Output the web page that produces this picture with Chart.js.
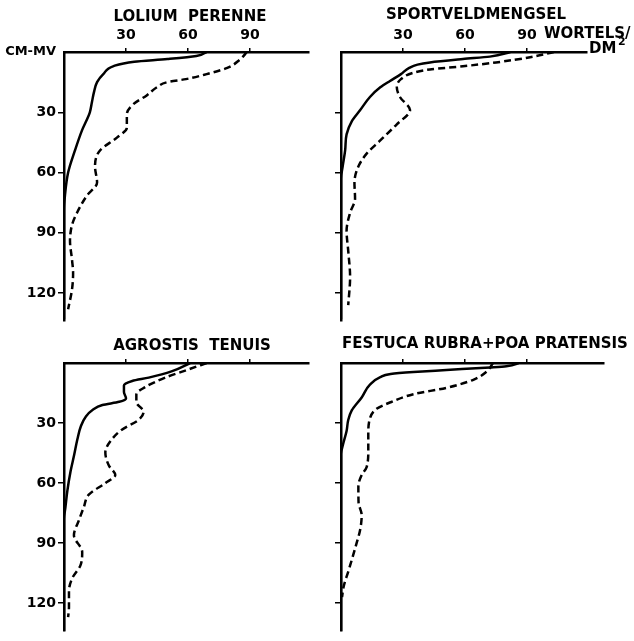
<!DOCTYPE html>
<html>
<head>
<meta charset="utf-8">
<script src="https://cdn.jsdelivr.net/npm/chart.js@4.4.1/dist/chart.umd.min.js"></script>
<style>
  body { margin: 0; background: #fff; }
  #wrap { position: relative; width: 634px; height: 641px; }
  #wrap canvas { position: absolute; }
</style>
</head>
<body>
<div id="wrap">
  <canvas id="c1" width="317" height="331" style="left:0;top:0"></canvas>
  <canvas id="c2" width="317" height="331" style="left:317px;top:0"></canvas>
  <canvas id="c3" width="317" height="310" style="left:0;top:331px"></canvas>
  <canvas id="c4" width="317" height="310" style="left:317px;top:331px"></canvas>
</div>
<script>
// ticks
const rootTicks = [0, 30, 60, 90];
const depthTicks = [0, 30, 60, 90, 120];
const surfaceLabel = "CM-MV";
const unitLabel = "WORTELS/";
const unitLabel2 = "DM";
const unitSup = "2";
const panelTitles = ["LOLIUM  PERENNE", "SPORTVELDMENGSEL", "AGROSTIS  TENUIS", "FESTUCA RUBRA+POA PRATENSIS"];

// Lolium perenne
const loliumSolidDepth = [0, 2, 3.5, 4.8, 7, 11, 15, 20, 25, 30, 39, 49, 60, 71, 79, 133];
const loliumSolidRoots = [69, 64, 50, 34, 24, 19, 16, 14.5, 13.5, 12.5, 8.7, 5.3, 2, 0.5, 0, 0];
const loliumDashedDepth = [0, 3.9, 7.9, 11, 13.5, 15, 17.5, 21.6, 26, 31, 37.7, 42.6, 49, 57, 65, 71.6, 80, 86, 94, 103.6, 110, 118, 128];
const loliumDashedRoots = [88.5, 85, 79, 69, 59, 50, 45, 40, 33.5, 30.4, 30.4, 25.6, 17.4, 15, 16, 11, 6.3, 3.9, 2.9, 3.9, 4.4, 3.9, 2];

// Sportveldmengsel
const sportSolidDepth = [0, 2.3, 3.5, 5.2, 6.3, 7.9, 11, 14.4, 17.6, 22.4, 29, 34.5, 41, 49, 57, 63, 133];
const sportSolidRoots = [82, 72, 59, 43, 37, 33, 29, 23.7, 19, 14, 9.2, 5.2, 2.7, 2, 0.8, 0, 0];
const sportDashedDepth = [0, 2.6, 5.2, 7.1, 8.7, 10.3, 13.5, 17.6, 22.4, 28.9, 36, 44, 50.6, 57, 65, 73, 80, 89, 99, 112, 126];
const sportDashedRoots = [103, 91.5, 75, 59, 43, 35, 29, 27, 28.5, 33.4, 27, 19, 12.4, 8.4, 6.5, 6.8, 4.4, 2.7, 3.5, 4.4, 3.5];

// Agrostis tenuis
const agrostisSolidDepth = [0, 4.2, 7.3, 9, 11.3, 14.5, 17.7, 19.4, 21, 23.5, 26.7, 31.5, 38, 46, 54, 64, 72, 78, 134];
const agrostisSolidRoots = [61, 52, 41, 33, 29, 29, 30, 26.7, 18.6, 13.8, 10.6, 8.2, 6.5, 4.9, 3.2, 1.6, 0.7, 0, 0];
const agrostisDashedDepth = [0, 3.3, 7.3, 12.2, 15.5, 19.5, 24.4, 28.5, 33.3, 39, 44.7, 51.2, 56, 60, 65.8, 72, 78.6, 86, 94.5, 101, 107.5, 114, 122, 127];
const agrostisDashedRoots = [69, 60, 49, 39, 35, 35, 38.5, 36, 28, 22.5, 20, 21.7, 24.8, 20, 12, 9.6, 7.2, 4.8, 8.8, 8, 4, 2.4, 2.4, 2];

// Festuca rubra + Poa pratensis
const festucaSolidDepth = [0, 1.6, 2.2, 3.5, 4.5, 5.5, 7.1, 10.8, 17.2, 23.7, 28.5, 34, 40.6, 45.5, 134];
const festucaSolidRoots = [86, 80, 72, 51, 35, 24, 19, 14, 10, 5.2, 3.5, 2.7, 1, 0, 0];
const festucaDashedDepth = [0, 4.3, 8.4, 12.4, 15.6, 19.6, 22.9, 27.7, 35.8, 43.8, 52, 56, 61.6, 69.7, 76, 82.6, 92, 103.6, 111.6, 117];
const festucaDashedRoots = [73.5, 70.5, 64, 51, 35, 24, 17.2, 14, 13.2, 13.2, 12.4, 10, 8.4, 8.5, 10, 9.4, 7, 3.7, 1.3, 0.5];

const DEPTH_MAX = 134;
const PX = 277 / DEPTH_MAX;
const FONT = '"DejaVu Sans", sans-serif';

function toPoints(depths, roots) {
    return depths.map((d, i) => ({ x: roots[i], y: d }));
}

const panelText = {
    id: "panelText",
    afterDraw(chart, args, opts) {
        const ctx = chart.ctx;
        ctx.save();
        ctx.fillStyle = "#000";
        ctx.textBaseline = "middle";
        (opts.items || []).forEach(it => {
            ctx.font = it.font;
            ctx.textAlign = it.align || "center";
            ctx.fillText(it.text, it.x, it.y);
        });
        ctx.restore();
    }
};

function makePanel(id, cfg) {
    const canvas = document.getElementById(id);
    const padRight = canvas.width - cfg.yWidth - cfg.xMax * PX;
    const padBottom = canvas.height - cfg.xHeight - DEPTH_MAX * PX;

    new Chart(canvas.getContext("2d"), {
        type: "line",
        data: {
            datasets: [
                {
                    data: toPoints(cfg.solidDepth, cfg.solidRoots),
                    borderColor: "#000",
                    borderWidth: 2.5,
                    pointRadius: 0,
                    cubicInterpolationMode: "monotone"
                },
                {
                    data: toPoints(cfg.dashedDepth, cfg.dashedRoots),
                    borderColor: "#000",
                    borderWidth: 2.5,
                    borderDash: [7, 4],
                    pointRadius: 0,
                    cubicInterpolationMode: "monotone"
                }
            ]
        },
        options: {
            indexAxis: "y",
            responsive: false,
            animation: false,
            events: [],
            layout: { padding: { left: 0, top: 0, right: padRight, bottom: padBottom } },
            plugins: {
                legend: { display: false },
                tooltip: { enabled: false },
                panelText: { items: cfg.texts }
            },
            scales: {
                x: {
                    type: "linear",
                    position: "top",
                    min: 0,
                    max: cfg.xMax,
                    afterBuildTicks: s => { s.ticks = rootTicks.map(v => ({ value: v })); },
                    afterFit: s => { s.height = cfg.xHeight; },
                    border: { display: true, color: "#000", width: 2.5 },
                    grid: {
                        drawOnChartArea: false,
                        drawTicks: true,
                        tickLength: 4,
                        lineWidth: 1.5,
                        color: c => (c.tick && c.tick.value === 0) ? "rgba(0,0,0,0)" : "#000"
                    },
                    ticks: {
                        padding: 4,
                        color: "#000",
                        maxRotation: 0,
                        font: { family: FONT, size: 14, weight: "bold" },
                        callback: v => (cfg.xLabels && v !== 0) ? String(v) : ""
                    }
                },
                y: {
                    type: "linear",
                    reverse: true,
                    min: 0,
                    max: DEPTH_MAX,
                    afterBuildTicks: s => { s.ticks = depthTicks.map(v => ({ value: v })); },
                    afterFit: s => { s.width = cfg.yWidth; },
                    border: { display: true, color: "#000", width: 2.5 },
                    grid: {
                        drawOnChartArea: false,
                        drawTicks: true,
                        tickLength: 6,
                        lineWidth: 1.5,
                        color: c => (c.tick && c.tick.value === 0) ? "rgba(0,0,0,0)" : "#000"
                    },
                    ticks: {
                        padding: 2,
                        color: "#000",
                        font: c => ({
                            family: FONT,
                            size: (c.tick && c.tick.value === 0) ? 13 : 14,
                            weight: "bold"
                        }),
                        callback: v => {
                            if (!cfg.yLabels) return "";
                            if (v === 0) return cfg.surface ? surfaceLabel : "";
                            return String(v);
                        }
                    }
                }
            }
        },
        plugins: [panelText]
    });
}

const titleFont = "bold 15px " + FONT;

makePanel("c1", {
    yWidth: 64, xHeight: 52, xMax: 118.5, xLabels: true, yLabels: true, surface: true,
    solidDepth: loliumSolidDepth, solidRoots: loliumSolidRoots,
    dashedDepth: loliumDashedDepth, dashedRoots: loliumDashedRoots,
    texts: [{ text: panelTitles[0], x: 190, y: 17, font: titleFont }]
});

makePanel("c2", {
    yWidth: 24, xHeight: 52, xMax: 119, xLabels: true, yLabels: false,
    solidDepth: sportSolidDepth, solidRoots: sportSolidRoots,
    dashedDepth: sportDashedDepth, dashedRoots: sportDashedRoots,
    texts: [
        { text: panelTitles[1], x: 159, y: 15, font: titleFont },
        { text: unitLabel, x: 227, y: 34, font: titleFont, align: "left" },
        { text: unitLabel2, x: 272, y: 49, font: titleFont, align: "left" },
        { text: unitSup, x: 301, y: 42, font: "bold 11px " + FONT, align: "left" }
    ]
});

makePanel("c3", {
    yWidth: 64, xHeight: 32, xMax: 118.5, xLabels: false, yLabels: true,
    solidDepth: agrostisSolidDepth, solidRoots: agrostisSolidRoots,
    dashedDepth: agrostisDashedDepth, dashedRoots: agrostisDashedRoots,
    texts: [{ text: panelTitles[2], x: 192, y: 15, font: titleFont }]
});

makePanel("c4", {
    yWidth: 24, xHeight: 32, xMax: 127, xLabels: false, yLabels: false,
    solidDepth: festucaSolidDepth, solidRoots: festucaSolidRoots,
    dashedDepth: festucaDashedDepth, dashedRoots: festucaDashedRoots,
    texts: [{ text: panelTitles[3], x: 168, y: 13, font: titleFont }]
});
</script>
</body>
</html>
